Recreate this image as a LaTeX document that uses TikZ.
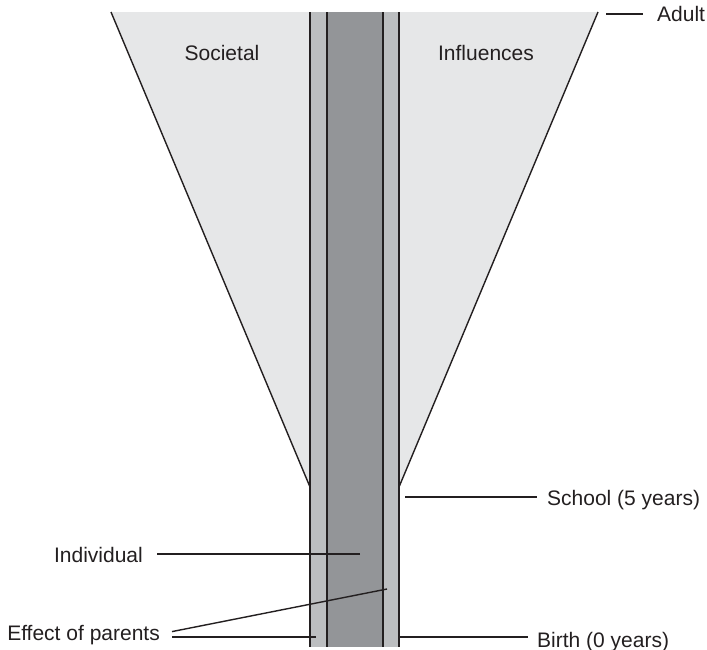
\documentclass[tikz,border=0pt]{standalone}
\usepackage{fontspec}
\setmainfont{Liberation Sans}
\usepackage{xcolor}
\definecolor{ink}{HTML}{231F20}
\definecolor{conegray}{HTML}{E6E7E8}
\definecolor{bandgray}{HTML}{BCBEC0}
\definecolor{coregray}{HTML}{939598}

\begin{document}
\begin{tikzpicture}[x=1pt,y=-1pt,
    lbl/.style={font=\fontsize{21}{25}\selectfont,text=ink,inner sep=0pt},
    lead/.style={line width=1.4pt,color=ink},
    edge/.style={line width=1.8pt,color=ink}]
        \useasboundingbox (0,0) rectangle (707,649);
        % funnel of societal influences
        \coordinate (topL) at (111,12);
        \coordinate (topR) at (598,12);
        \coordinate (footL) at (310,487);
        \coordinate (footR) at (399,487);
        \fill[conegray] (topL) -- (topR) -- (footR) -- (footL) -- cycle;
        \draw[lead] (topL) -- (footL);
        \draw[lead] (topR) -- (footR);
        % the growing individual
        \fill[bandgray] (310,12) rectangle (399,647);
        \fill[coregray] (327,12) rectangle (383,647);
        \foreach \xx in {310,327,383,399}
            \draw[edge] (\xx,12) -- (\xx,647);
        % labels
        \node[lbl,anchor=base] (soc) at (222,60) {Societal};
        \node[lbl,anchor=base] (infl) at (486,60) {Influences};
        \node[lbl,anchor=base west] (adult) at (657,21) {Adult};
        \node[lbl,anchor=base west] (school) at (547,505) {School (5 years)};
        \node[lbl,anchor=base east] (indiv) at (143,562) {Individual};
        \node[lbl,anchor=base east] (parents) at (160,640) {Effect of parents};
        \node[lbl,anchor=base west] (birth) at (537,647) {Birth (0 years)};
        % leader lines
        \coordinate (adultTip) at (606,14);
        \coordinate (schoolTip) at (405,497);
        \coordinate (indivTip) at (360,554);
        \coordinate (parentsTipA) at (387,589);
        \coordinate (parentsTipB) at (316,637);
        \coordinate (birthTip) at (399,637);
        \draw[lead] (adultTip) -- ([xshift=-14pt]adultTip -| adult.west);
        \draw[lead] (schoolTip) -- ([xshift=-10pt]schoolTip -| school.west);
        \draw[lead] (indivTip) -- ([xshift=14pt]indivTip -| indiv.east);
        \draw[lead] (parentsTipA) -- ([xshift=12pt,yshift=3pt]parents.east);
        \draw[lead] (parentsTipB) -- ([xshift=12pt]parentsTipB -| parents.east);
        \draw[lead] (birthTip) -- ([xshift=-9pt]birthTip -| birth.west);
    \end{tikzpicture}
\end{document}
